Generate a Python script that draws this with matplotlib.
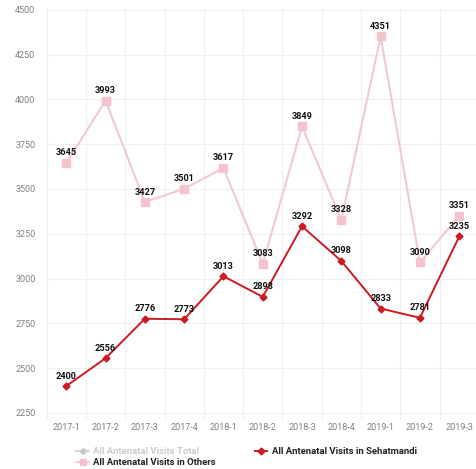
import matplotlib
matplotlib.use("Agg")
import matplotlib.pyplot as plt
from matplotlib.lines import Line2D

plt.rcParams['font.family'] = ['Roboto', 'DejaVu Sans']

quarters = ["2017-1", "2017-2", "2017-3", "2017-4", "2018-1", "2018-2",
            "2018-3", "2018-4", "2019-1", "2019-2", "2019-3"]
others = [3645, 3993, 3427, 3501, 3617, 3083, 3849, 3328, 4351, 3090, 3351]
sehatmandi = [2400, 2556, 2776, 2773, 3013, 2898, 3292, 3098, 2833, 2781, 3235]
y_ticks = [2250, 2500, 2750, 3000, 3250, 3500, 3750, 4000, 4250, 4500]

PINK = "#f5c3cd"
PINK_LINE = "#f3c9d1"
RED = "#cc1a22"
GRID = "#efefef"

fig = plt.figure(figsize=(4.76, 4.69), dpi=100)
ax = fig.add_axes([0.098, 0.1045, 0.908, 0.877])

x = list(range(len(quarters)))

ax.plot(x, others, color=PINK_LINE, lw=1.5, marker="s", ms=5.5,
        mfc=PINK, mec=PINK, zorder=3)
ax.plot(x, sehatmandi, color=RED, lw=1.4, marker="D", ms=3.5,
        mfc=RED, mec=RED, zorder=4)

for xi, v in zip(x, others):
    ax.annotate(str(v), (xi, v), xytext=(0, 4), textcoords="offset points",
                ha="center", va="bottom", fontsize=6.6, fontweight="bold",
                color="#111111", zorder=5)
for xi, v in zip(x, sehatmandi):
    ax.annotate(str(v), (xi, v), xytext=(0, 4), textcoords="offset points",
                ha="center", va="bottom", fontsize=6.6, fontweight="bold",
                color="#111111", zorder=5)

ax.set_xlim(-0.5, len(quarters) - 0.5)
ax.set_ylim(2211, 4506)
ax.set_xticks(x)
ax.set_xticklabels(quarters)
ax.set_xticks([i + 0.5 for i in range(-1, len(quarters))], minor=True)
ax.set_yticks(y_ticks)
ax.tick_params(axis="both", which="both", length=0, colors="#808080",
               labelsize=6.5)
ax.tick_params(axis="y", pad=8)
ax.tick_params(axis="x", pad=2)
ax.grid(False)
ax.grid(True, axis="y", which="major", color=GRID, lw=0.8)
ax.grid(True, axis="x", which="minor", color=GRID, lw=0.8)
for s in ax.spines.values():
    s.set_visible(False)

handles = [
    Line2D([], [], color="#c9c9c9", lw=1.2, marker="o", ms=3.5),
    Line2D([], [], color=PINK, lw=1.2, marker="s", ms=5),
    Line2D([], [], color=RED, lw=1.4, marker="D", ms=3.5),
]
labels = ["All Antenatal Visits Total", "All Antenatal Visits in Others",
          "All Antenatal Visits in Sehatmandi"]
leg = fig.legend(handles, labels, ncol=2, loc="upper left",
                 bbox_to_anchor=(0.16, 0.047), frameon=False,
                 prop={"size": 6.8, "weight": "bold"},
                 handlelength=1.35, handletextpad=0.45,
                 columnspacing=4.1, labelspacing=0.25, borderpad=0,
                 borderaxespad=0)
for t, c in zip(leg.get_texts(), ["#cccccc", "#222222", "#222222"]):
    t.set_color(c)

fig.savefig("out.png", dpi=100, facecolor="white")
